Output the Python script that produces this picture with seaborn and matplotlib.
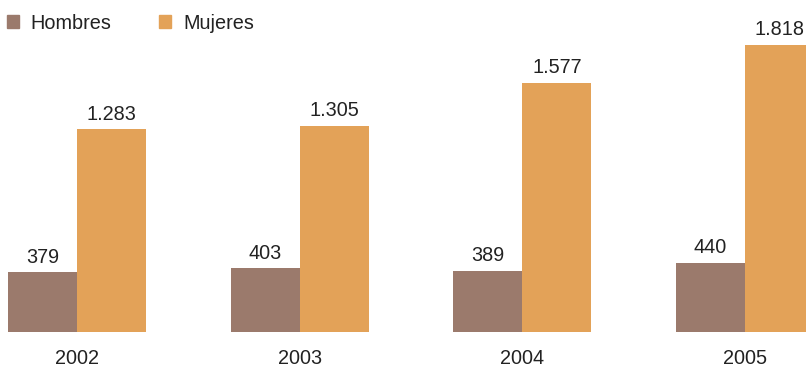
import pandas as pd
import matplotlib
matplotlib.use("Agg")
import matplotlib.pyplot as plt
import matplotlib.patches as mpatches
import seaborn as sns

# Data
years = ["2002", "2003", "2004", "2005"]
hombres = [379, 403, 389, 440]
mujeres = [1283, 1305, 1577, 1818]
series_names = ["Hombres", "Mujeres"]
colors = {"Hombres": "#9B7A6C", "Mujeres": "#E3A258"}

df = pd.DataFrame({
    "year": years * 2,
    "value": hombres + mujeres,
    "sexo": ["Hombres"] * len(years) + ["Mujeres"] * len(years),
})

sns.set_style("white")
plt.rcParams["font.family"] = ["Liberation Sans", "DejaVu Sans"]

fig = plt.figure(figsize=(8.06, 3.67), dpi=100)
ax = fig.add_axes([0, 35 / 367, 1, 332 / 367])

sns.barplot(
    data=df, x="year", y="value", hue="sexo",
    palette=colors, width=0.62, saturation=1,
    linewidth=0, ax=ax, legend=False,
)

def fmt(v):
    return f"{int(v):,}".replace(",", ".")

for cont in ax.containers:
    ax.bar_label(cont, labels=[fmt(b.get_height()) for b in cont],
                 padding=4, fontsize=14.3, color="#222222")

ax.set_xlim(-0.346, 3.274)
ax.set_ylim(0, 2103)
ax.set_xlabel("")
ax.set_ylabel("")
ax.set_yticks([])
ax.tick_params(axis="x", length=0, labelsize=14.3, pad=12, labelcolor="#222222")
for s in ax.spines.values():
    s.set_visible(False)

handles = [mpatches.Patch(color=colors[n], label=n) for n in series_names]
fig.legend(handles=handles, loc="upper left", bbox_to_anchor=(-0.004, 0.99),
           ncol=2, frameon=False, fontsize=14.3, handlelength=0.6,
           handleheight=0.6, handletextpad=0.6, columnspacing=2.4,
           borderaxespad=0.1, borderpad=0.4, labelcolor="#222222")

fig.savefig("out.png", dpi=100)
